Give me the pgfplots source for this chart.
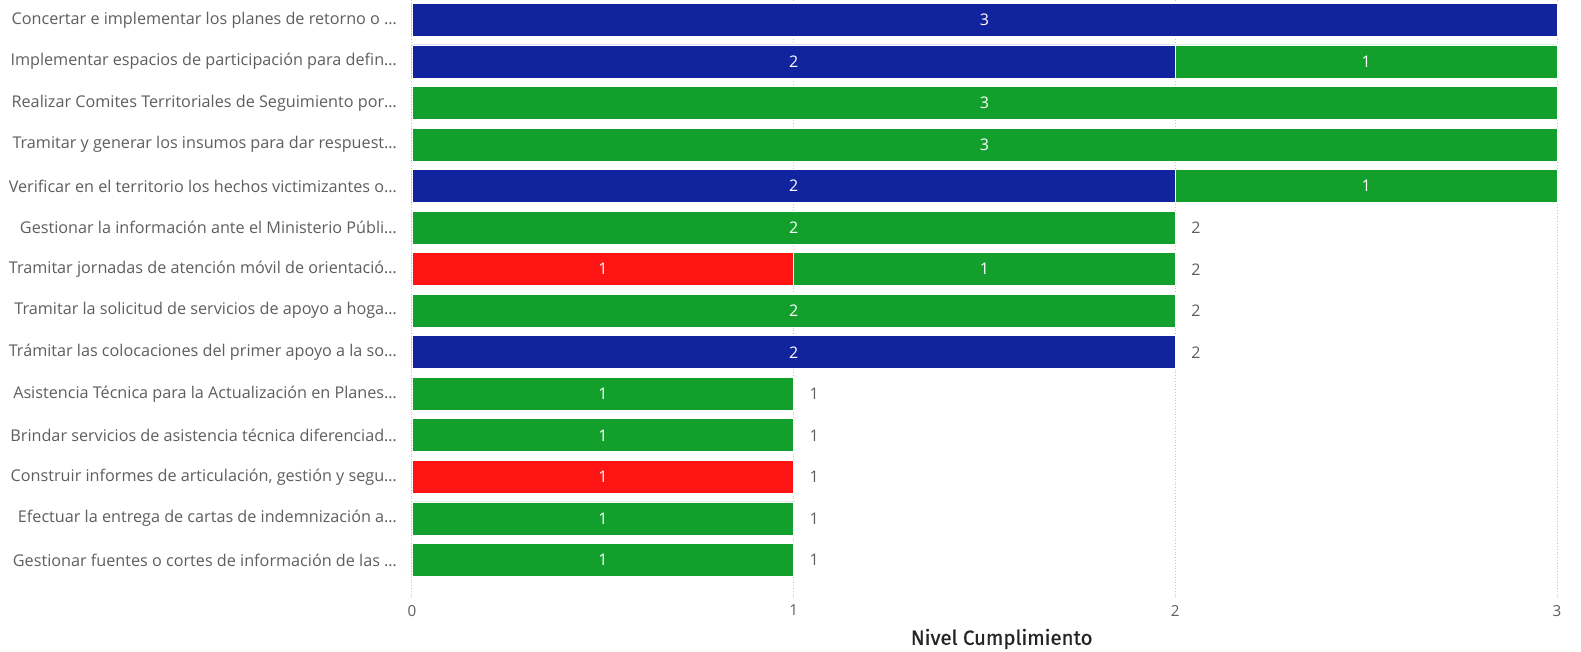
\documentclass[border=0pt]{standalone}
\usepackage{fontspec}
\setmainfont{Open Sans}
\newfontfamily\titlefont{Fira Sans}[FakeBold=0.8]
\usepackage{pgfplots}
\pgfplotsset{compat=1.18}
\definecolor{cblue}{HTML}{12239E}
\definecolor{cgreen}{HTML}{139F2C}
\definecolor{cred}{HTML}{FF1414}
\definecolor{tgray}{HTML}{605E5C}
\definecolor{ttitle}{HTML}{252423}
\begin{document}
\begin{tikzpicture}
\useasboundingbox (0,0) rectangle (790.5pt,326pt);
\pgfplotsset{
  common/.style={
    at={(206pt,27.5pt)}, anchor=south west,
    scale only axis, width=572.5pt, height=298.5pt,
    xmin=0, xmax=3, ymin=-0.48, ymax=13.89, y dir=reverse,
    axis line style={draw=none}, major tick length=0pt,
    clip=false,
    /pgf/number format/assume math mode=true,
  }
}
\begin{axis}[common,
  xbar stacked, bar width=16.5pt,
  xtick={0,1,2,3},
  xmajorgrids, grid style={densely dotted, gray!45, line width=0.5pt},
  ytick={0,1,2,3,4,5,6,7,8,9,10,11,12,13},
  yticklabels={
    {Concertar e implementar los planes de retorno o …},
    {Implementar espacios de participación para defin…},
    {Realizar Comites Territoriales de Seguimiento por…},
    {Tramitar y generar los insumos para dar respuest…},
    {Verificar en el territorio los hechos victimizantes o…},
    {Gestionar la información ante el Ministerio Públi…},
    {Tramitar jornadas de atención móvil de orientació…},
    {Tramitar la solicitud de servicios de apoyo a hoga…},
    {Trámitar las colocaciones del primer apoyo a la so…},
    {Asistencia Técnica para la Actualización en Planes…},
    {Brindar servicios de asistencia técnica diferenciad…},
    {Construir informes de articulación, gestión y segu…},
    {Efectuar la entrega de cartas de indemnización a…},
    {Gestionar fuentes o cortes de información de las …}},
  yticklabel style={font=\fontsize{8.1}{9}\selectfont, text=tgray, anchor=east, xshift=-4pt},
  xticklabel style={font=\fontsize{7.6}{9}\selectfont, text=tgray, yshift=-0.5pt},
  xlabel={Nivel Cumplimiento},
  xlabel style={font=\titlefont\fontsize{10.2}{12}\selectfont, text=ttitle, at={(axis description cs:0.515,0)}, anchor=center, yshift=-21pt},
  nodes near coords={\pgfmathfloatifflags{\pgfplotspointmeta}{0}{}{\pgfmathprintnumber{\pgfplotspointmeta}}},
  nodes near coords style={font=\fontsize{8}{9}\selectfont, text=white, anchor=center},
  nodes near coords align=center,
  every axis plot/.append style={draw=white, line width=0.4pt},
]
% red
\addplot[fill=cred] coordinates {
 (0,0) (0,1) (0,2) (0,3) (0,4) (0,5) (1,6) (0,7) (0,8) (0,9) (0,10) (1,11) (0,12) (0,13)};
% blue
\addplot[fill=cblue] coordinates {
 (3,0) (2,1) (0,2) (0,3) (2,4) (0,5) (0,6) (0,7) (2,8) (0,9) (0,10) (0,11) (0,12) (0,13)};
% green
\addplot[fill=cgreen] coordinates {
 (0,0) (1,1) (3,2) (3,3) (1,4) (2,5) (1,6) (2,7) (0,8) (1,9) (1,10) (0,11) (1,12) (1,13)};
\end{axis}
\begin{axis}[common, hide axis,
  nodes near coords, point meta=x,
  nodes near coords style={font=\fontsize{8}{9}\selectfont, text=tgray, anchor=west, xshift=4.5pt},
]
\addplot[only marks, mark=none] coordinates {
 (2,5) (2,6) (2,7) (2,8) (1,9) (1,10) (1,11) (1,12) (1,13)};
\end{axis}
\end{tikzpicture}
\end{document}
